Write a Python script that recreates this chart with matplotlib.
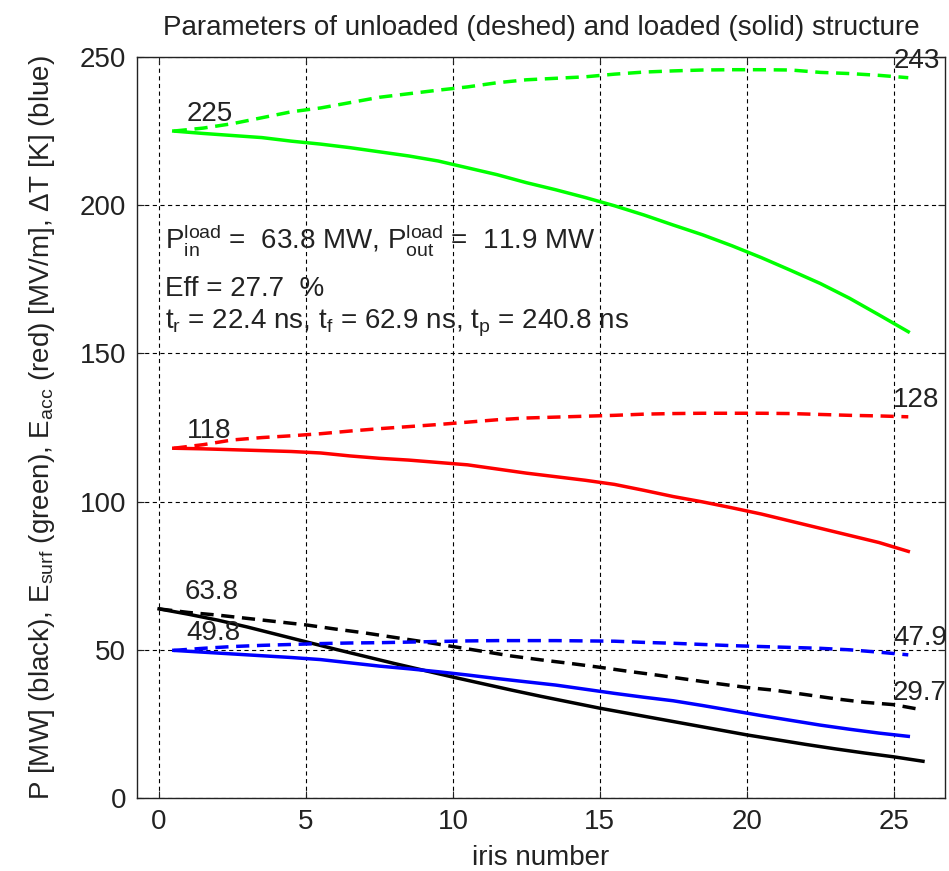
import matplotlib
matplotlib.use("Agg")
import matplotlib.pyplot as plt
import numpy as np

# iris positions: fields are given per cell (mid-iris), power per iris
x_cell = np.arange(26) + 0.5
x_iris = np.arange(27)

# surface field (green), MV/m
esurf_unloaded = [225.0, 226.0, 227.5, 229.5, 231.5, 232.8, 234.6, 236.4, 237.6, 238.8,
                  239.9, 241.3, 242.3, 242.8, 243.3, 244.2, 244.9, 245.3, 245.6, 245.7,
                  245.7, 245.6, 244.8, 244.4, 243.8, 243.0]
esurf_loaded = [225.0, 224.2, 223.5, 222.8, 221.6, 220.6, 219.4, 218.0, 216.6, 214.9,
                212.6, 210.3, 207.6, 205.2, 202.6, 199.8, 196.7, 193.3, 190.0, 186.3,
                182.3, 178.0, 173.6, 168.6, 163.0, 157.3]

# accelerating field (red), MV/m
eacc_unloaded = [118.0, 119.2, 120.8, 121.6, 122.2, 122.9, 123.8, 124.6, 125.3, 126.0,
                 126.8, 127.6, 128.2, 128.5, 128.8, 129.1, 129.5, 129.7, 129.8, 129.8,
                 129.8, 129.7, 129.4, 129.1, 128.9, 128.6]
eacc_loaded = [118.0, 117.8, 117.5, 117.2, 116.9, 116.4, 115.4, 114.6, 114.0, 113.2,
               112.4, 111.0, 109.6, 108.4, 107.2, 105.8, 103.8, 101.7, 99.9, 97.9,
               95.8, 93.4, 91.0, 88.6, 86.2, 83.2]

# power (black), MW
p_unloaded = [63.8, 62.6, 61.7, 60.6, 59.5, 58.4, 57.0, 55.7, 54.2, 52.7,
              51.1, 49.5, 47.9, 46.6, 45.4, 44.1, 42.7, 41.4, 40.0, 38.6,
              37.3, 36.3, 34.9, 33.5, 32.3, 31.5, 29.7]
p_loaded = [63.8, 62.0, 60.0, 57.7, 55.2, 52.7, 50.2, 47.8, 45.4, 43.1,
            40.8, 38.6, 36.4, 34.3, 32.3, 30.3, 28.5, 26.7, 24.9, 23.1,
            21.3, 19.7, 18.1, 16.6, 15.2, 13.9, 12.4]

# temperature rise (blue), K
dt_unloaded = [49.8, 50.5, 51.1, 51.5, 51.8, 52.1, 52.3, 52.4, 52.6, 52.8,
               53.0, 53.1, 53.1, 53.1, 53.0, 52.9, 52.5, 52.2, 51.8, 51.4,
               51.1, 50.8, 50.5, 50.0, 49.2, 48.3]
dt_loaded = [49.8, 49.2, 48.6, 48.0, 47.4, 46.7, 45.6, 44.5, 43.6, 42.6,
             41.5, 40.3, 39.2, 38.1, 36.7, 35.3, 34.0, 32.8, 31.2, 29.5,
             27.8, 26.2, 24.6, 23.2, 21.9, 20.8]

start_labels = ["225", "118", "63.8", "49.8"]
end_labels = ["243", "128", "29.7", "47.9"]

plt.rcParams["font.family"] = ["Liberation Sans", "DejaVu Sans"]
plt.rcParams["mathtext.fontset"] = "custom"
plt.rcParams["mathtext.rm"] = "Liberation Sans"
plt.rcParams["mathtext.it"] = "Liberation Sans:italic"
plt.rcParams["lines.scale_dashes"] = False

FS = 20
fig = plt.figure(figsize=(9.49, 8.71), dpi=100)
ax = fig.add_axes([0.1444, 0.0838, 0.8514, 0.8508])

dash = (0, (9.5, 5.5))
lw = 2.5
series = [
    (x_cell, esurf_unloaded, esurf_loaded, "#00ff00"),
    (x_cell, eacc_unloaded, eacc_loaded, "#ff0000"),
    (x_iris, p_unloaded, p_loaded, "black"),
    (x_cell, dt_unloaded, dt_loaded, "#0000ff"),
]
for (xs, yu, yl, c), s_lab, e_lab in zip(series, start_labels, end_labels):
    ax.plot(xs, yu, color=c, lw=lw, linestyle=dash, zorder=3)
    ax.plot(xs, yl, color=c, lw=lw, zorder=3)
    dx0 = 26 if xs[0] == 0 else 13
    ax.annotate(s_lab, xy=(xs[0], yu[0]), xytext=(dx0 * 0.72, 3),
                textcoords="offset points", fontsize=FS, va="bottom", ha="left",
                color="#222222", zorder=4)
    dx1 = -30 if xs[-1] == 26 else -15
    ax.annotate(e_lab, xy=(xs[-1], yu[-1]), xytext=(dx1 * 0.72, 3),
                textcoords="offset points", fontsize=FS, va="bottom", ha="left",
                color="#222222", zorder=4)

ax.text(0.2, 185.5, r"$\mathrm{P_{in}^{load}}$ =  63.8 MW, $\mathrm{P_{out}^{load}}$ =  11.9 MW",
        fontsize=FS, va="baseline", ha="left", color="#222222")
ax.text(0.2, 169.5, "Eff = 27.7  %", fontsize=FS, va="baseline", ha="left", color="#222222")
ax.text(0.2, 158.5, r"t$_\mathrm{r}$ = 22.4 ns, t$_\mathrm{f}$ = 62.9 ns, t$_\mathrm{p}$ = 240.8 ns",
        fontsize=FS, va="baseline", ha="left", color="#222222")

ax.set_xlim(-0.75, 26.75)
ax.set_ylim(0, 250)
ax.set_xticks(np.arange(0, 26, 5))
ax.set_yticks(np.arange(0, 251, 50))
ax.grid(True, color="black", linestyle=(0, (3, 2.5)), linewidth=0.8)
ax.tick_params(direction="in", length=5, width=0.8, labelsize=FS, pad=8,
               top=True, right=True, colors="#222222")
for sp in ax.spines.values():
    sp.set_linewidth(1.0)
    sp.set_color("#222222")

ax.set_title("Parameters of unloaded (deshed) and loaded (solid) structure",
             fontsize=FS, pad=16, color="#222222")
ax.set_xlabel("iris number", fontsize=FS, labelpad=7, color="#222222")
ax.set_ylabel(r"P [MW] (black), E$_\mathrm{surf}$ (green), E$_\mathrm{acc}$ (red) [MV/m], $\Delta$T [K] (blue)",
              fontsize=FS, labelpad=16, color="#222222")

fig.savefig("out.png", dpi=100)
